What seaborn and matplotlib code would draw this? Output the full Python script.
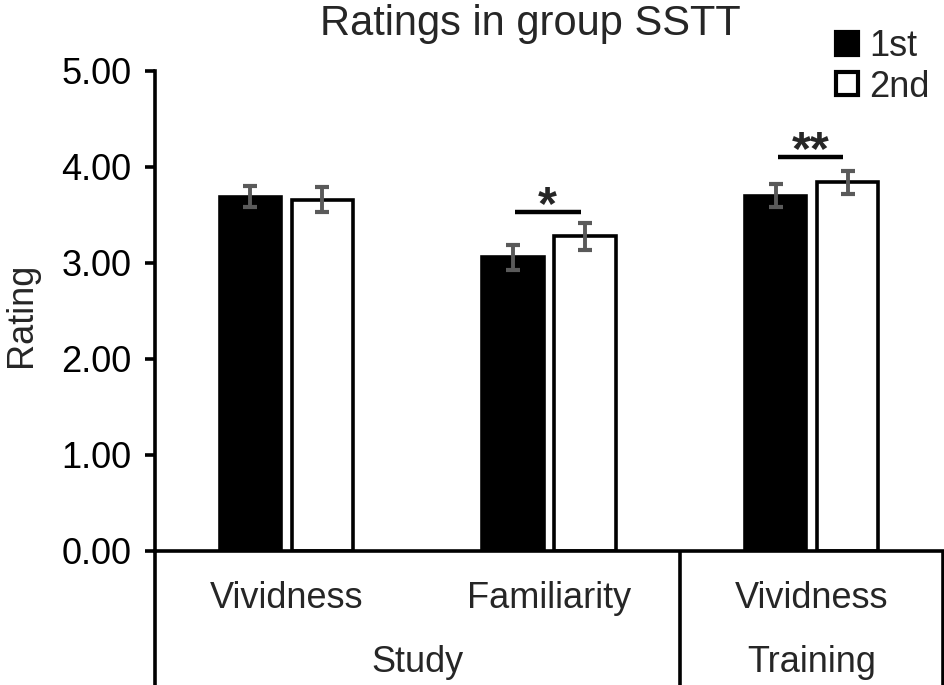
import matplotlib
matplotlib.use("Agg")
import matplotlib.pyplot as plt
import matplotlib.transforms as mtransforms
import seaborn as sns
import pandas as pd
import numpy as np

# ---- data ----
cat_keys = ["Study Vividness", "Study Familiarity", "Training Vividness"]
cat_labels = ["Vividness", "Familiarity", "Vividness"]
groups = ["Study", "Training"]
group_spans = [(0, 1), (2, 2)]
sessions = ["1st", "2nd"]
first_vals = [3.69, 3.06, 3.70]
second_vals = [3.66, 3.28, 3.84]
first_err = [0.11, 0.13, 0.12]
second_err = [0.13, 0.14, 0.12]
sig_pairs = [(1, "*", 3.53, 3.66), (2, "**", 4.10, 4.23)]
yticks = [0.0, 1.0, 2.0, 3.0, 4.0, 5.0]

df = pd.DataFrame({
    "cat": cat_keys * 2,
    "session": [sessions[0]] * 3 + [sessions[1]] * 3,
    "rating": first_vals + second_vals,
})

sns.set_style("white")
plt.rcParams["font.family"] = ["Liberation Sans", "DejaVu Sans"]
FS = 26

fig = plt.figure(figsize=(9.45, 6.85), dpi=100)
ax = fig.add_axes([155 / 945, 1 - 551 / 685, (943 - 155) / 945, 480 / 685])

sns.barplot(data=df, x="cat", y="rating", hue="session", order=cat_keys,
            hue_order=sessions, palette=["black", "white"], width=0.55, gap=0.15,
            edgecolor="black", linewidth=2.6, errorbar=None, ax=ax, legend=True)

# error bars from bar patches
bars = [p for p in ax.patches if p.get_height() > 0]
errs = first_err + second_err
for p, e in zip(bars, errs):
    xc = p.get_x() + p.get_width() / 2
    ax.errorbar(xc, p.get_height(), yerr=e, fmt="none", ecolor="#5a5a5a",
                elinewidth=2.8, capsize=5, capthick=3.0, zorder=5)

# significance markers
for ci, star, yl, ys in sig_pairs:
    x0 = ci - 0.13
    x1 = ci + 0.12
    ax.plot([x0, x1], [yl, yl], color="black", lw=3.2, solid_capstyle="butt")
    ax.text((x0 + x1) / 2, ys - 0.20, star, ha="center", va="baseline", fontsize=35,
            fontweight="bold")

ax.set_xlim(-0.5, 2.5)
ax.set_ylim(0, 5)
ax.set_yticks(yticks)
ax.set_yticklabels([f"{v:.2f}" for v in yticks], fontsize=FS)
ax.set_xticks([])
ax.set_xlabel("")
ax.set_ylabel("")
for s in ["top", "right"]:
    ax.spines[s].set_visible(False)
for s in ["left", "bottom"]:
    ax.spines[s].set_linewidth(2.6)
    ax.spines[s].set_color("black")
ax.tick_params(axis="y", direction="out", length=7, width=2.6, left=True, pad=10,
               colors="black")

fig.text(22 / 945, 1 - 315 / 685, "Rating", rotation=90, ha="center", va="center",
         fontsize=FS)

trans = mtransforms.blended_transform_factory(ax.transData, ax.transAxes)
# category labels
for i, lab in enumerate(cat_labels):
    ax.text(i, -0.100, lab, transform=trans, ha="center", va="center", fontsize=FS)
# group labels & separators
for g, (a, b) in zip(groups, group_spans):
    ax.text((a + b) / 2, -0.232, g, transform=trans, ha="center", va="center", fontsize=FS)
for xv in [-0.5, 1.5, 2.5]:
    ax.plot([xv, xv], [0, -0.29], transform=trans, color="black", lw=2.6,
            clip_on=False, solid_capstyle="butt")

# legend
handles, labels = ax.get_legend_handles_labels()
for h in handles:
    h.set_linewidth(3)
ax.legend(handles, labels, loc="upper right", bbox_to_anchor=(1.012, 0.997),
          bbox_transform=fig.transFigure, frameon=False, fontsize=FS,
          handlelength=0.6, handleheight=0.6, handletextpad=0.3,
          labelspacing=0.15, borderpad=0.25)

fig.text(530 / 945, 1 - 24 / 685, "Ratings in group SSTT", ha="center", va="center",
         fontsize=30)

fig.savefig("out.png", dpi=100)
